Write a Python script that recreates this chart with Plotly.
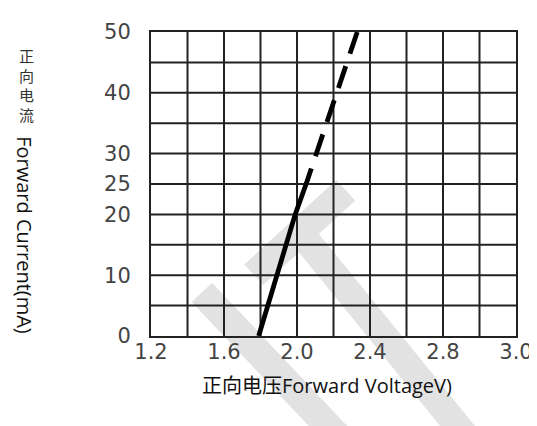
import plotly.graph_objects as go

# data
solid_voltage = [1.79, 1.99, 2.05]
solid_current = [0, 20, 25]
dashed_voltage = [2.33, 2.05]
dashed_current = [50, 25]

x_tickvals = [1.2, 1.6, 2.0, 2.4, 2.8, 3.2]
x_ticktext = ["1.2", "1.6", "2.0", "2.4", "2.8", "3.0"]
y_tickvals = [0, 10, 20, 25, 30, 40, 50]
y_ticktext = ["0", "10", "20", "25", "30", "40", "50"]

W, H = 537, 426
L, R, T, B = 143, 21, 15, 98
PW, PH = W - L - R, H - T - B


def px(x, y):
    return (x - L) / PW, (H - B - y) / PH


fig = go.Figure()
fig.add_trace(go.Scatter(x=solid_voltage, y=solid_current, mode="lines",
                         line=dict(color="black", width=4.8), showlegend=False))
fig.add_trace(go.Scatter(x=dashed_voltage, y=dashed_current, mode="lines",
                         line=dict(color="black", width=4.8, dash="23px,13px"),
                         showlegend=False))

# light grey watermark bands
bands = [((248, 265), (342, 178), 28), ((296, 222), (480, 450), 27),
         ((195, 283), (342, 440), 28)]
for (x0, y0), (x1, y1), w in bands:
    a, b = px(x0, y0)
    c, d = px(x1, y1)
    fig.add_shape(type="line", xref="paper", yref="paper", x0=a, y0=b, x1=c, y1=d,
                  line=dict(color="#e2e2e2", width=w), layer="below")

tick_font = dict(family="DejaVu Sans", size=21, color="#444444")
fig.update_xaxes(range=[1.2, 3.2], tickvals=x_tickvals, ticktext=x_ticktext,
                 showgrid=False, showline=True, mirror=True, linecolor="#222",
                 linewidth=2, ticks="", tickfont=tick_font, zeroline=False,
                 ticklabelstandoff=-4)
fig.update_yaxes(range=[0, 50], tickvals=y_tickvals, ticktext=y_ticktext,
                 showgrid=False, showline=True, mirror=True, linecolor="#222",
                 linewidth=2, ticks="", tickfont=tick_font, zeroline=False,
                 ticklabelstandoff=14)

# grid every 0.2 V and 5 mA
for i in range(1, 10):
    v = 1.2 + 0.2 * i
    fig.add_shape(type="line", xref="x", yref="paper", x0=v, x1=v, y0=0, y1=1,
                  line=dict(color="#222", width=2), layer="below")
    c = 5 * i
    fig.add_shape(type="line", xref="paper", yref="y", x0=0, x1=1, y0=c, y1=c,
                  line=dict(color="#222", width=2), layer="below")

ax, ay = px(16, 70)
fig.add_annotation(text="正<br>向<br>电<br>流", xref="paper", yref="paper", x=ax, y=ay,
                   xanchor="center", yanchor="middle", showarrow=False,
                   font=dict(family="Noto Sans CJK SC", size=15, color="#333"))
ax, ay = px(13, 224)
fig.add_annotation(text="Forward Current(mA)", xref="paper", yref="paper", x=ax, y=ay,
                   xanchor="center", yanchor="middle", textangle=90, showarrow=False,
                   font=dict(family="Open Sans", size=20, color="#111"))
ax, ay = px(323, 379)
fig.add_annotation(text="正向电压Forward VoltageV)", xref="paper", yref="paper", x=ax, y=ay,
                   xanchor="center", yanchor="middle", showarrow=False,
                   font=dict(family="Open Sans, Noto Sans CJK SC", size=20, color="#111"))

fig.update_layout(width=W, height=H, margin=dict(l=L, r=R, t=T, b=B),
                  paper_bgcolor="white", plot_bgcolor="white")
fig.write_html("out.html")
